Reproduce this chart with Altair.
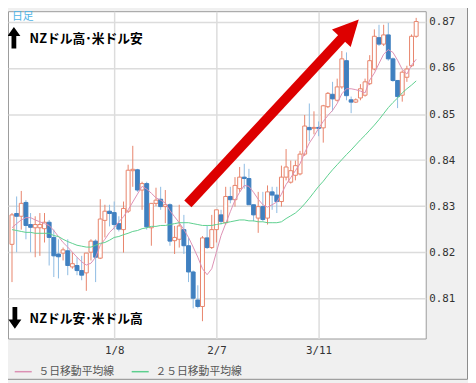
import altair as alt
import pandas as pd

# ---- data (index 0..87 = trading days) ----
opens = [0.8217, 0.8284, 0.8278, 0.8308, 0.8260, 0.8253, 0.8253, 0.8251, 0.8265, 0.8232,
         0.8196, 0.8198, 0.8203, 0.8168, 0.8171, 0.8160, 0.8155, 0.8200, 0.8224, 0.8187,
         0.8269, 0.8289, 0.8286, 0.8262, 0.8249, 0.8289, 0.8377, 0.8379, 0.8335, 0.8349,
         0.8253, 0.8306, 0.8315, 0.8299, 0.8303, 0.8225, 0.8228, 0.8249, 0.8214, 0.8157,
         0.8096, 0.8082, 0.8231, 0.8210, 0.8249, 0.8281, 0.8264, 0.8321, 0.8314, 0.8338,
         0.8363, 0.8360, 0.8303, 0.8274, 0.8299, 0.8274, 0.8331, 0.8324, 0.8310, 0.8363,
         0.8352, 0.8367, 0.8370, 0.8413, 0.8471, 0.8469, 0.8471, 0.8470, 0.8516, 0.8543,
         0.8530, 0.8559, 0.8616, 0.8531, 0.8526, 0.8535, 0.8541, 0.8566, 0.8598, 0.8666,
         0.8652, 0.8672, 0.8620, 0.8573, 0.8541, 0.8580, 0.8605, 0.8669]
highs = [0.8285, 0.8321, 0.8333, 0.8313, 0.8285, 0.8278, 0.8285, 0.8285, 0.8270, 0.8249,
         0.8228, 0.8210, 0.8228, 0.8200, 0.8189, 0.8192, 0.8198, 0.8228, 0.8228, 0.8315,
         0.8303, 0.8303, 0.8310, 0.8278, 0.8310, 0.8390, 0.8431, 0.8381, 0.8353, 0.8353,
         0.8306, 0.8340, 0.8342, 0.8335, 0.8306, 0.8257, 0.8303, 0.8281, 0.8232, 0.8160,
         0.8128, 0.8235, 0.8257, 0.8281, 0.8292, 0.8292, 0.8342, 0.8342, 0.8363, 0.8385,
         0.8392, 0.8381, 0.8303, 0.8331, 0.8331, 0.8345, 0.8342, 0.8342, 0.8388, 0.8424,
         0.8399, 0.8399, 0.8420, 0.8498, 0.8523, 0.8506, 0.8484, 0.8520, 0.8548, 0.8570,
         0.8577, 0.8637, 0.8634, 0.8538, 0.8534, 0.8565, 0.8577, 0.8628, 0.8684, 0.8694,
         0.8694, 0.8698, 0.8623, 0.8573, 0.8595, 0.8605, 0.8673, 0.8709]
lows = [0.8135, 0.8200, 0.8249, 0.8228, 0.8200, 0.8189, 0.8192, 0.8221, 0.8171, 0.8146,
        0.8143, 0.8182, 0.8150, 0.8164, 0.8150, 0.8139, 0.8116, 0.8182, 0.8135, 0.8185,
        0.8232, 0.8256, 0.8249, 0.8245, 0.8199, 0.8285, 0.8342, 0.8331, 0.8292, 0.8249,
        0.8214, 0.8300, 0.8292, 0.8263, 0.8214, 0.8196, 0.8210, 0.8196, 0.8135, 0.8078,
        0.8078, 0.8050, 0.8207, 0.8207, 0.8221, 0.8260, 0.8260, 0.8306, 0.8299, 0.8331,
        0.8338, 0.8303, 0.8267, 0.8242, 0.8267, 0.8260, 0.8292, 0.8285, 0.8299, 0.8356,
        0.8349, 0.8356, 0.8367, 0.8409, 0.8441, 0.8456, 0.8452, 0.8438, 0.8513, 0.8506,
        0.8527, 0.8555, 0.8530, 0.8502, 0.8524, 0.8530, 0.8538, 0.8563, 0.8595, 0.8648,
        0.8648, 0.8616, 0.8570, 0.8513, 0.8527, 0.8570, 0.8602, 0.8666]
closes = [0.8281, 0.8278, 0.8306, 0.8258, 0.8254, 0.8260, 0.8260, 0.8265, 0.8232, 0.8192,
          0.8190, 0.8205, 0.8171, 0.8175, 0.8160, 0.8150, 0.8198, 0.8224, 0.8189, 0.8272,
          0.8289, 0.8284, 0.8260, 0.8250, 0.8295, 0.8378, 0.8380, 0.8335, 0.8349, 0.8255,
          0.8306, 0.8313, 0.8299, 0.8303, 0.8224, 0.8232, 0.8257, 0.8214, 0.8157, 0.8100,
          0.8082, 0.8231, 0.8210, 0.8249, 0.8292, 0.8267, 0.8321, 0.8314, 0.8345, 0.8363,
          0.8360, 0.8303, 0.8281, 0.8299, 0.8271, 0.8331, 0.8324, 0.8310, 0.8363, 0.8385,
          0.8377, 0.8388, 0.8413, 0.8474, 0.8466, 0.8471, 0.8469, 0.8518, 0.8545, 0.8533,
          0.8559, 0.8620, 0.8540, 0.8526, 0.8531, 0.8555, 0.8570, 0.8616, 0.8669, 0.8652,
          0.8672, 0.8620, 0.8573, 0.8538, 0.8591, 0.8598, 0.8669, 0.8701]
ma5 = [0.8253, 0.8262, 0.8270, 0.8275, 0.8275, 0.8270, 0.8266, 0.8262, 0.8258, 0.8247,
       0.8234, 0.8221, 0.8211, 0.8200, 0.8189, 0.8179, 0.8172, 0.8176, 0.8189, 0.8215,
       0.8228, 0.8243, 0.8253, 0.8266, 0.8277, 0.8292, 0.8309, 0.8326, 0.8343, 0.8337,
       0.8328, 0.8318, 0.8313, 0.8307, 0.8290, 0.8277, 0.8264, 0.8249, 0.8232, 0.8211,
       0.8189, 0.8164, 0.8151, 0.8164, 0.8200, 0.8236, 0.8262, 0.8288, 0.8313, 0.8330,
       0.8345, 0.8343, 0.8330, 0.8315, 0.8303, 0.8298, 0.8303, 0.8309, 0.8326, 0.8347,
       0.8362, 0.8377, 0.8392, 0.8416, 0.8437, 0.8452, 0.8469, 0.8484, 0.8497, 0.8508,
       0.8523, 0.8544, 0.8555, 0.8555, 0.8553, 0.8550, 0.8546, 0.8574, 0.8589, 0.8610,
       0.8630, 0.8640, 0.8634, 0.8617, 0.8597, 0.8587, 0.8606, 0.8619]
ma25 = [0.8249, 0.8247, 0.8245, 0.8243, 0.8243, 0.8241, 0.8241, 0.8241, 0.8241, 0.8236,
        0.8234, 0.8228, 0.8223, 0.8219, 0.8215, 0.8213, 0.8211, 0.8211, 0.8215, 0.8219,
        0.8221, 0.8226, 0.8232, 0.8234, 0.8238, 0.8241, 0.8245, 0.8247, 0.8251, 0.8253,
        0.8256, 0.8256, 0.8258, 0.8258, 0.8260, 0.8262, 0.8264, 0.8264, 0.8264, 0.8262,
        0.8260, 0.8258, 0.8258, 0.8258, 0.8260, 0.8262, 0.8264, 0.8266, 0.8268, 0.8270,
        0.8270, 0.8268, 0.8268, 0.8266, 0.8266, 0.8264, 0.8264, 0.8264, 0.8266, 0.8273,
        0.8279, 0.8285, 0.8294, 0.8305, 0.8317, 0.8330, 0.8343, 0.8354, 0.8367, 0.8379,
        0.8390, 0.8401, 0.8412, 0.8422, 0.8433, 0.8444, 0.8454, 0.8465, 0.8476, 0.8488,
        0.8501, 0.8514, 0.8525, 0.8535, 0.8546, 0.8555, 0.8563, 0.8572]

tick_pos = [22, 44, 66]
tick_labels = ["1/8", "2/7", "3/11"]
y_ticks = [0.81, 0.82, 0.83, 0.84, 0.85, 0.86, 0.87]
ma_names = ["５日移動平均線", "２５日移動平均線"]
ma_colors = ["#dc90b4", "#5ccf8e"]

df = pd.DataFrame({"i": list(range(len(opens))), "open": opens, "high": highs,
                   "low": lows, "close": closes})
df[ma_names[0]] = ma5
df[ma_names[1]] = ma25

UP_C = "#e8836a"
DN_BODY = "#3f80c0"
DN_WICK = "#8dbbe2"

label_expr = " : ".join(f"datum.value == {p} ? '{l}'" for p, l in zip(tick_pos[:-1], tick_labels[:-1])) + f" : '{tick_labels[-1]}'"

xs = alt.Scale(domain=[0.2, 88.0], nice=False, zero=False)
ys = alt.Scale(domain=[0.80124, 0.87235], nice=False, zero=False)

x_enc = alt.X("i:Q", scale=xs, title=None,
              axis=alt.Axis(values=tick_pos, labelExpr=label_expr, grid=True,
                            gridColor="#dcdcdc", gridWidth=1.5, domain=False, ticks=False,
                            labelPadding=6, labelFont="DejaVu Sans Mono", labelFontSize=11,
                            labelColor="#333333"))
y_axis = alt.Axis(orient="right", values=y_ticks, format=".2f", grid=True,
                  gridColor="#dcdcdc", gridWidth=1.5, domain=False, ticks=False,
                  labelPadding=3, labelFont="DejaVu Sans Mono", labelFontSize=11,
                  labelColor="#333333")

up = "datum.close >= datum.open"
base = alt.Chart(df)

wicks = base.mark_rule(strokeWidth=1).encode(
    x=x_enc,
    y=alt.Y("low:Q", scale=ys, axis=y_axis, title=None),
    y2="high:Q",
    color=alt.condition(up, alt.value(UP_C), alt.value(DN_WICK)),
)
bodies = base.mark_bar(size=4, strokeWidth=1).encode(
    x=x_enc,
    y=alt.Y("open:Q", scale=ys, axis=y_axis, title=None),
    y2="close:Q",
    fill=alt.condition(up, alt.value("#ffffff"), alt.value(DN_BODY)),
    stroke=alt.condition(up, alt.value(UP_C), alt.value(DN_BODY)),
)
lines = base.transform_fold(ma_names, as_=["ma", "val"]).mark_line(strokeWidth=1).encode(
    x=x_enc,
    y=alt.Y("val:Q", scale=ys, axis=y_axis, title=None),
    color=alt.Color("ma:N", scale=alt.Scale(domain=ma_names, range=ma_colors),
                    sort=ma_names,
                    legend=alt.Legend(orient="none", legendX=6, legendY=357,
                                      direction="horizontal", title=None,
                                      symbolType="stroke", symbolSize=300,
                                      symbolStrokeWidth=1.5, labelFont="Noto Sans CJK JP",
                                      labelFontSize=11, labelColor="#555555",
                                      columnPadding=14, labelOffset=6, padding=0)),
)

one = pd.DataFrame({"k": [0]})
ann = alt.Chart(one)

label_day = ann.mark_text(text="日足", align="left", baseline="top", font="Noto Sans CJK JP",
                          fontSize=11, color="#4fb4e6").encode(x=alt.value(4), y=alt.value(0))
txt_up = ann.mark_text(text="NZドル高･米ドル安", align="left", baseline="middle",
                       font="Noto Sans CJK JP", fontSize=13, fontWeight="bold",
                       color="#000000").encode(x=alt.value(22), y=alt.value(28))
txt_dn = ann.mark_text(text="NZドル安･米ドル高", align="left", baseline="middle",
                       font="Noto Sans CJK JP", fontSize=13, fontWeight="bold",
                       color="#000000").encode(x=alt.value(22), y=alt.value(313))
up_path = "M0,-1 L0.6,-0.15 L0.22,-0.15 L0.22,1 L-0.22,1 L-0.22,-0.15 L-0.6,-0.15 Z"
dn_path = "M0,1 L0.6,0.15 L0.22,0.15 L0.22,-1 L-0.22,-1 L-0.22,0.15 L-0.6,0.15 Z"
arr_up = ann.mark_point(shape=up_path, size=484, filled=True, color="#000000", opacity=1,
                        strokeWidth=0).encode(x=alt.value(6), y=alt.value(27))
arr_dn = ann.mark_point(shape=dn_path, size=484, filled=True, color="#000000", opacity=1,
                        strokeWidth=0).encode(x=alt.value(7), y=alt.value(312))

red_shaft = ann.mark_rule(strokeWidth=10, color="#dd0000", strokeCap="butt").encode(
    x=alt.value(183), y=alt.value(196), x2=alt.value(342), y2=alt.value(25))
red_head = ann.mark_point(shape="M0,-1 L1,1 L-1,1 Z", size=676, angle=43, filled=True,
                          color="#dd0000", opacity=1, strokeWidth=0).encode(
    x=alt.value(348), y=alt.value(18))

border_r = ann.mark_rule(color="#8a8a8a", strokeWidth=1).encode(
    x=alt.value(467.5), y=alt.value(-10), y2=alt.value(374.5))
border_b = ann.mark_rule(color="#8a8a8a", strokeWidth=1).encode(
    x=alt.value(-10), x2=alt.value(467.5), y=alt.value(374.5))

chart = alt.layer(wicks, bodies, lines, red_shaft, red_head, arr_up, arr_dn, txt_up, txt_dn,
                  label_day, border_r, border_b).properties(
    width=425, height=333,
    autosize=alt.AutoSizeParams(type="none"),
    padding={"left": 0, "top": 0, "right": 43, "bottom": 42},
    background="#f0f0f0",
).configure_view(fill="#ffffff", stroke="#9a9a9a", strokeWidth=1)

chart.save("out.html", embed_options={"renderer": "svg", "actions": False})
